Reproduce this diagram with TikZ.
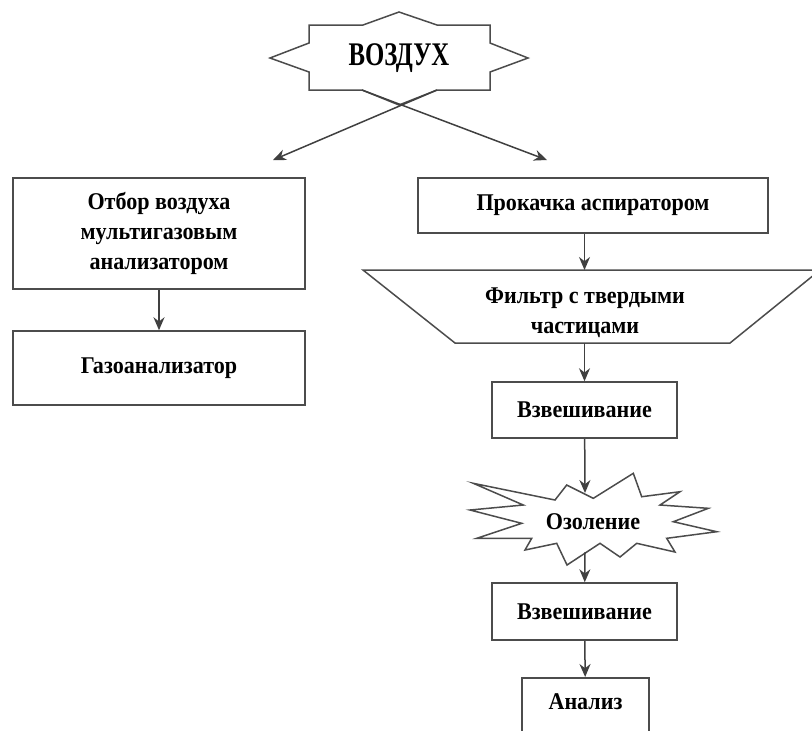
\documentclass[tikz,border=0pt]{standalone}
\usepackage{fontspec}
\setmainfont[FakeStretch=0.92]{Liberation Serif}
\newfontfamily\bigfont[FakeStretch=0.75]{Liberation Serif}
\usetikzlibrary{arrows.meta}

\begin{document}
\begin{tikzpicture}[x=0.5pt, y=-0.5pt, line width=0.75pt,
  every node/.style={font=\fontsize{12pt}{15pt}\selectfont\bfseries, text=black},
  outline/.style={draw=black!70, line join=miter},
  box/.style={outline, rectangle, align=center, inner sep=0pt},
  arr/.style={draw=black!75, -{Stealth[length=6.5pt, width=5.5pt]}}]
\useasboundingbox (0,0) rectangle (812,730);

% air
\draw[outline] (309,25) -- (363,25) -- (399,12) -- (437,25) -- (490,25) -- (490,43)
  -- (528,58) -- (490,72) -- (490,90) coordinate (vr) -- (437,90) coordinate (vbr)
  -- (399,105) -- (362,90) coordinate (vbl) -- (309,90) -- (309,72) -- (270,58)
  -- (309,43) -- cycle;
\node[font=\bigfont\fontsize{16.5pt}{18pt}\selectfont\bfseries] (air) at (399,58) {ВОЗДУХ};
\coordinate (lt) at (273,160);
\coordinate (rt) at (547,160);

% left branch
\node[box, minimum width=146pt, minimum height=55.5pt] (sample) at (159,233.5)
  {Отбор воздуха\\мультигазовым\\анализатором};
\node[box, minimum width=146pt, minimum height=37pt] (gas) at (159,368) {Газоанализатор};

% right branch
\node[box, minimum width=175pt, minimum height=27.5pt] (pump) at (593,205.5) {Прокачка аспиратором};
\draw[outline] (363,270) coordinate (f1) -- (820,270) coordinate (f2)
  -- (730,343) coordinate (f3) -- (455,343) coordinate (f4) -- cycle;
\node[align=center] (filter) at (585,313) {Фильтр с твердыми\\частицами};
\node[box, minimum width=92.5pt, minimum height=28pt] (weigh1) at (584.5,410) {Взвешивание};

\draw[outline] (473.3,483.3) -- (555,500) -- (566.7,485) -- (593.3,498.3) -- (633.3,473.3)
  -- (641.7,496.7) -- (680,491.7) -- (660,505) -- (708.3,508.3) -- (673.3,521.7)
  -- (716.7,531.7) -- (666.7,538.3) -- (675,552) -- (636.7,543.3) -- (620,557)
  -- (600,543.3) -- (567,565) -- (556.7,543.3) -- (525,550) -- (531.7,538.3)
  -- (476.7,538.3) -- (521.7,523.3) -- (470,510) -- (523.3,505) -- cycle;
\node (ash) at (593,522) {Озоление};
\coordinate (ashtop) at (585,493);
\coordinate (ashbot) at (585,552);

\node[box, minimum width=92.5pt, minimum height=28.5pt] (weigh2) at (584.5,611.5) {Взвешивание};
\node[box, anchor=north, minimum width=63.5pt, inner ysep=3pt, text height=13pt, text depth=14pt]
  (result) at (585.5,677) {Анализ};

% arrows
\draw[arr] (vbr) -- (lt);
\draw[arr] (vbl) -- (rt);
\draw[arr] (sample) -- (gas);
\draw[arr] (pump.south -| weigh1) -- (weigh1 |- f1);
\draw[arr] (weigh1 |- f4) -- (weigh1);
\draw[arr] (weigh1) -- (ashtop);
\draw[arr] (ashbot) -- (weigh2);
\draw[arr] (weigh2) -- (result);

\end{tikzpicture}
\end{document}
